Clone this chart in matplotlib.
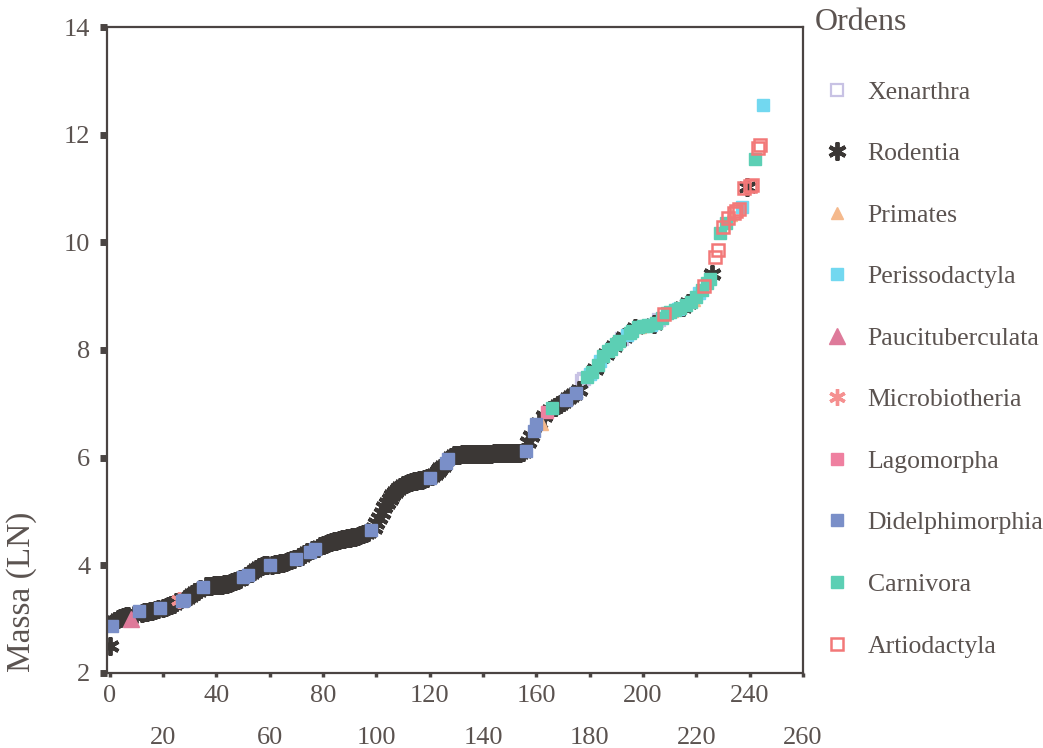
import matplotlib
matplotlib.use("Agg")
import matplotlib.pyplot as plt

plt.rcParams['font.family'] = ['Liberation Serif', 'DejaVu Serif']

# massa (LN) por posicao (rank)
massa = [
    2.50, 2.88, 2.96, 3.00, 3.02, 3.04, 3.05, 3.06, 3.00, 3.08,
    3.10, 3.16, 3.12, 3.13, 3.14, 3.15, 3.16, 3.17, 3.18, 3.20,
    3.21, 3.23, 3.25, 3.27, 3.29, 3.31, 3.35, 3.33, 3.35, 3.40,
    3.43, 3.46, 3.50, 3.53, 3.56, 3.60, 3.61, 3.62, 3.62, 3.63,
    3.63, 3.64, 3.64, 3.65, 3.66, 3.67, 3.69, 3.71, 3.73, 3.75,
    3.78, 3.80, 3.82, 3.86, 3.90, 3.94, 3.97, 3.99, 4.00, 4.00,
    4.00, 4.01, 4.02, 4.03, 4.04, 4.05, 4.06, 4.08, 4.10, 4.11,
    4.12, 4.15, 4.18, 4.21, 4.24, 4.25, 4.28, 4.30, 4.33, 4.36,
    4.38, 4.40, 4.42, 4.44, 4.45, 4.46, 4.47, 4.48, 4.49, 4.50,
    4.51, 4.52, 4.53, 4.54, 4.56, 4.58, 4.60, 4.62, 4.65, 4.70,
    4.78, 4.88, 4.98, 5.08, 5.16, 5.24, 5.31, 5.37, 5.42, 5.46,
    5.49, 5.51, 5.53, 5.55, 5.56, 5.57, 5.58, 5.59, 5.60, 5.62,
    5.63, 5.66, 5.70, 5.75, 5.80, 5.85, 5.90, 5.97, 6.02, 6.05,
    6.05, 6.05, 6.06, 6.06, 6.06, 6.06, 6.06, 6.07, 6.07, 6.07,
    6.07, 6.07, 6.07, 6.07, 6.08, 6.08, 6.08, 6.08, 6.08, 6.08,
    6.08, 6.08, 6.08, 6.09, 6.09, 6.10, 6.13, 6.30, 6.40, 6.50,
    6.62, 6.65, 6.62, 6.78, 6.84, 6.88, 6.92, 6.95, 6.98, 7.00,
    7.04, 7.07, 7.10, 7.14, 7.18, 7.20, 7.25, 7.42, 7.46, 7.50,
    7.55, 7.60, 7.65, 7.72, 7.80, 7.88, 7.92, 7.98, 8.02, 8.08,
    8.12, 8.16, 8.20, 8.25, 8.28, 8.32, 8.36, 8.40, 8.42, 8.43,
    8.44, 8.45, 8.46, 8.47, 8.48, 8.50, 8.55, 8.60, 8.66, 8.68,
    8.70, 8.72, 8.74, 8.76, 8.78, 8.80, 8.84, 8.87, 8.90, 8.93,
    8.98, 9.05, 9.12, 9.18, 9.24, 9.32, 9.42, 9.72, 9.85, 10.18,
    10.28, 10.35, 10.45, 10.50, 10.55, 10.58, 10.62, 10.66, 11.00, 11.02,
    11.05, 11.06, 11.55, 11.75, 11.80, 12.55,
]

# ordem de cada ponto (mesma posicao que massa)
ordem = (
    "RDRRRRRRUR" "RDRRRRRRRD" "RRRRRRMDDR" "RRRRRDRRRR" "RRRRRRRRRR"
    "DRDRRRRRRR" "DRRRRRRRRR" "DRRRRDRDRR" "RRRRRRRRRR" "RRRRRRRRDR"
    "RRRRRRRRRR" "RRRRRRRRRR" "DRRRRRDDRR" "RRRRRRRRRR" "RRRRRRRRRR"
    "RRRRRRDRRD" "DRPRLRCRRR" "RDRRRDRXXC" "ECRCECRCCR" "CCXRECCRCP"
    "CCCERCXCAC" "CPCECRCRCP" "CECACCRAAC" "ACAPAAAEAR" "AACAAE"
)

ordens = ['Xenarthra', 'Rodentia', 'Primates', 'Perissodactyla',
          'Paucituberculata', 'Microbiotheria', 'Lagomorpha',
          'Didelphimorphia', 'Carnivora', 'Artiodactyla']
codigos = ['X', 'R', 'P', 'E', 'U', 'M', 'L', 'D', 'C', 'A']

estilos = {
    'X': dict(marker='s', ms=8, mfc='none', mec='#c8c2e4', mew=1.6),
    'R': dict(marker=(6, 2, 0), ms=13, color='#3b3735', mew=2.8),
    'P': dict(marker='^', ms=9, color='#f5b98c', mec='#f5b98c'),
    'E': dict(marker='s', ms=8, color='#72d8f0', mec='#72d8f0'),
    'U': dict(marker='^', ms=11, color='#de7a9a', mec='#de7a9a'),
    'M': dict(marker=(6, 2, 0), ms=12, color='#f59090', mew=2.4),
    'L': dict(marker='s', ms=8, color='#ef80a0', mec='#ef80a0'),
    'D': dict(marker='s', ms=9, color='#7a8fc8', mec='#7a8fc8'),
    'C': dict(marker='s', ms=8, color='#5ccfb4', mec='#5ccfb4'),
    'A': dict(marker='s', ms=9, mfc='none', mec='#f27878', mew=1.8),
}

cor_texto = '#5b5350'
cor_eixo = '#4a4442'

fig = plt.figure(figsize=(10.43, 7.48), dpi=100)
ax = fig.add_axes([0.1026, 0.1003, 0.6674, 0.8636])

for nome, cod in zip(ordens, codigos):
    xs = [i for i, o in enumerate(ordem) if o == cod]
    ys = [massa[i] for i in xs]
    ax.plot(xs, ys, ls='none', label=nome, **estilos[cod])

ax.set_xlim(-1, 260)
ax.set_ylim(2, 14)

for s in ax.spines.values():
    s.set_color(cor_eixo)
    s.set_linewidth(1.6)

ax.set_yticks(range(2, 15, 2))
ax.tick_params(axis='y', direction='out', length=5, width=5, color=cor_eixo,
               labelsize=19, labelcolor=cor_texto, pad=7)

ax.set_xticks(range(0, 261, 40))
ax.set_xticks(range(20, 261, 40), minor=True)
ax.set_xticklabels([str(v) for v in range(0, 261, 40)])
ax.set_xticklabels([str(v) for v in range(20, 261, 40)], minor=True)
ax.tick_params(axis='x', which='both', direction='out', length=3, width=2.5,
               color=cor_eixo, labelsize=19, labelcolor=cor_texto)
ax.tick_params(axis='x', which='major', pad=6)
ax.tick_params(axis='x', which='minor', pad=36)

ax.set_ylabel('Massa (LN)', fontsize=24, color=cor_texto)
ax.yaxis.set_label_coords(-0.1, 0.125)

fig.text(0.781, 0.97, 'Ordens', fontsize=23, color=cor_texto, va='center', ha='left')
leg = fig.legend(loc='upper left', bbox_to_anchor=(0.79, 0.892), frameon=False,
                 fontsize=18.5, labelspacing=1.5, handlelength=1.0,
                 handletextpad=0.7, borderaxespad=0, borderpad=0)
for t in leg.get_texts():
    t.set_color(cor_texto)

fig.savefig('out.png', dpi=100)
